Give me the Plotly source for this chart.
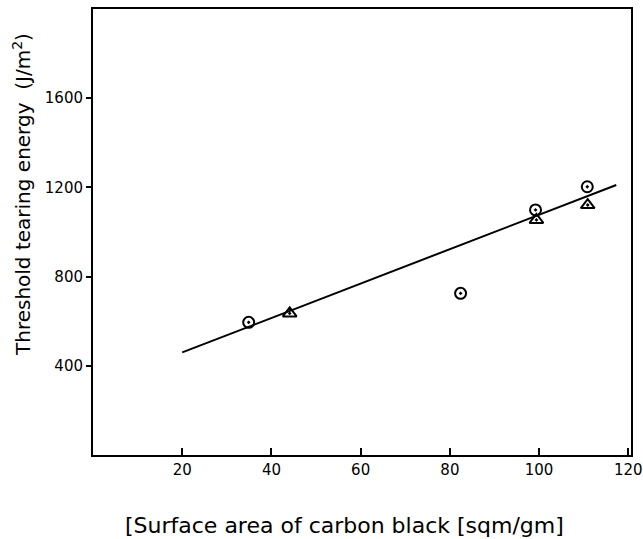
import plotly.graph_objects as go

circle_x = [34.9, 82.4, 99.2, 110.8]
circle_y = [595, 725, 1099, 1203]
tri_x = [44.1, 99.4, 110.9]
tri_y = [635, 1054, 1121]
fit_x = [20, 117.3]
fit_y = [460, 1211]
x_ticks = [20, 40, 60, 80, 100, 120]
y_ticks = [400, 800, 1200, 1600]

FONT = "DejaVu Sans"

fig = go.Figure()
fig.add_trace(go.Scatter(x=fit_x, y=fit_y, mode="lines",
                         line=dict(color="black", width=2), showlegend=False))
fig.add_trace(go.Scatter(x=circle_x, y=circle_y, mode="markers",
                         marker=dict(symbol="circle-open-dot", size=11, color="black",
                                     line=dict(width=2, color="black")), showlegend=False))
fig.add_trace(go.Scatter(x=tri_x, y=tri_y, mode="markers",
                         marker=dict(symbol="triangle-up-open-dot", size=12, color="black",
                                     line=dict(width=2, color="black")), showlegend=False))

fig.update_xaxes(range=[0, 120.6], tickvals=x_ticks, ticks="inside", ticklen=7, tickwidth=1.5,
                 tickcolor="black", showline=True, linecolor="black", linewidth=2,
                 mirror=True, showgrid=False, zeroline=False, ticklabeloverflow="allow",
                 automargin=False,
                 tickfont=dict(family=FONT, size=15, color="black"))
fig.update_yaxes(range=[0, 2000], tickvals=y_ticks, ticks="outside", ticklen=5, tickwidth=1.5,
                 tickcolor="black", showline=True, linecolor="black", linewidth=2,
                 mirror=True, showgrid=False, zeroline=False, automargin=False,
                 tickfont=dict(family=FONT, size=15, color="black"))

fig.add_annotation(text="[Surface area of carbon black [sqm/gm]", xref="paper", yref="paper",
                   x=(344 - 93) / (631 - 93), y=-(525 - 455) / (455 - 9), xanchor="center",
                   yanchor="middle", showarrow=False,
                   font=dict(family=FONT, size=22, color="black"))
fig.add_annotation(text="Threshold tearing energy  (J/m<sup>2</sup>)", xref="paper", yref="paper",
                   x=-(93 - 22) / (631 - 93), y=(455 - 195) / (455 - 9), xanchor="center",
                   yanchor="middle", textangle=-90, showarrow=False,
                   font=dict(family=FONT, size=20, color="black"))

fig.update_layout(width=643, height=539, margin=dict(l=93, r=12, t=9, b=84, autoexpand=False),
                  plot_bgcolor="white", paper_bgcolor="white")
fig.write_html("out.html")
